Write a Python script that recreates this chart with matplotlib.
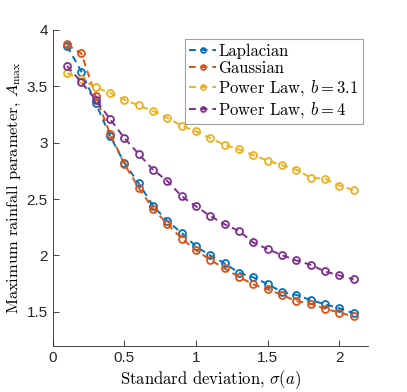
import matplotlib
matplotlib.use("Agg")
import matplotlib.pyplot as plt
import numpy as np

sigma = [0.1, 0.2, 0.3, 0.4, 0.5, 0.6, 0.7, 0.8, 0.9, 1.0, 1.1,
         1.2, 1.3, 1.4, 1.5, 1.6, 1.7, 1.8, 1.9, 2.0, 2.1]
laplacian = [3.856, 3.63, 3.35, 3.06, 2.82, 2.64, 2.44, 2.305, 2.20, 2.08, 2.00,
             1.93, 1.847, 1.806, 1.747, 1.676, 1.65, 1.606, 1.567, 1.532, 1.488]
gaussian = [3.87, 3.79, 3.41, 3.08, 2.81, 2.60, 2.415, 2.28, 2.15, 2.047, 1.96,
            1.885, 1.81, 1.744, 1.70, 1.65, 1.597, 1.57, 1.529, 1.494, 1.46]
power31 = [3.615, 3.56, 3.49, 3.44, 3.38, 3.33, 3.28, 3.22, 3.15, 3.10, 3.04,
           2.98, 2.94, 2.89, 2.84, 2.80, 2.76, 2.69, 2.68, 2.62, 2.58]
power4 = [3.68, 3.535, 3.38, 3.21, 3.04, 2.90, 2.76, 2.66, 2.525, 2.435, 2.35,
          2.276, 2.217, 2.115, 2.056, 2.003, 1.956, 1.917, 1.859, 1.823, 1.788]

series = [
    (laplacian, "Laplacian", "#0072BD"),
    (gaussian, "Gaussian", "#D95319"),
    (power31, r"Power Law, $b=3.1$", "#EDB120"),
    (power4, r"Power Law, $b=4$", "#7E2F8E"),
]

plt.rcParams['mathtext.fontset'] = 'cm'

fig = plt.figure(figsize=(4.07, 3.92), dpi=100)
ax = fig.add_axes([0.1295, 0.118, 0.7745, 0.806])

for vals, lab, col in series:
    ax.plot(sigma, vals, linestyle=(0, (3.5, 2.5)), color=col, linewidth=1.4,
            marker='o', markersize=5, markerfacecolor='none',
            markeredgewidth=1.3, label=lab)

ax.set_xlim(0, 2.2)
ax.set_ylim(1.2, 4)
ax.set_xticks([0, 0.5, 1, 1.5, 2])
ax.set_xticklabels(['0', '0.5', '1', '1.5', '2'])
ax.set_yticks([1.5, 2, 2.5, 3, 3.5, 4])
ax.set_yticklabels(['1.5', '2', '2.5', '3', '3.5', '4'])

for s in ['top', 'right']:
    ax.spines[s].set_visible(False)
for s in ['left', 'bottom']:
    ax.spines[s].set_color('#262626')
    ax.spines[s].set_linewidth(0.6)
ax.tick_params(direction='in', length=4, width=0.6, colors='#262626',
               labelsize=11)
for t in ax.get_xticklabels() + ax.get_yticklabels():
    t.set_fontfamily('Liberation Sans')

ax.set_xlabel(r"Standard deviation, $\sigma(a)$", fontsize=12, fontfamily='cmr10',
              labelpad=3)
ax.set_ylabel(r"Maximum rainfall parameter, $A_{\max}$", fontsize=11.8,
              fontfamily='cmr10', labelpad=3)

leg = ax.legend(loc='upper left', bbox_to_anchor=(0.42, 0.97),
                prop={'family': 'cmr10', 'size': 12},
                frameon=True, fancybox=False, handlelength=1.6, handletextpad=0.15,
                borderpad=0.25, labelspacing=0.12, borderaxespad=0, markerscale=0.7)
leg.get_frame().set_edgecolor('#888888')
leg.get_frame().set_linewidth(0.8)

fig.savefig("out.png", dpi=100)
